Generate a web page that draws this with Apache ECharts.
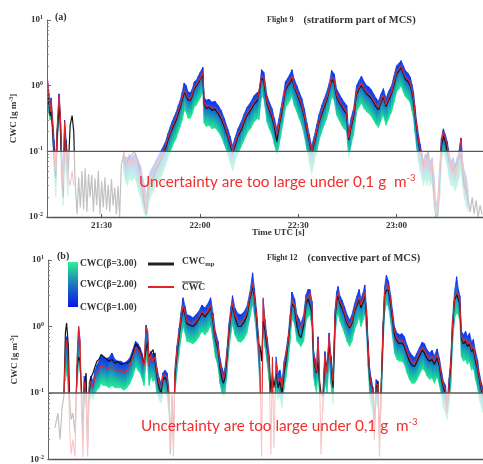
<!DOCTYPE html>
<html>
<head>
<meta charset="utf-8">
<script src="https://cdn.jsdelivr.net/npm/echarts@6/dist/echarts.min.js"></script>
<style>
html, body { margin: 0; padding: 0; background: #fff; }
#main { width: 483px; height: 464px; }
</style>
</head>
<body>
<div id="main"></div>
<script>
// ---- Flight 9 (panel a), time in minutes after 21:00 UTC ----
var tA = [13.5,13.8,14.3,14.6,15.0,15.5,16.0,16.4,17.0,17.4,17.8,18.3,18.7,19.2,19.8,20.4,21.0,21.5,21.8,
  22.0,22.5,23.0,23.5,24.0,24.5,25.0,25.5,26.0,26.5,27.0,27.5,28.0,28.5,29.0,29.5,30.0,30.5,31.0,31.5,32.0,32.5,33.0,33.5,34.0,34.5,35.0,35.5,36.0,
  36.7,37.3,37.9,38.5,39.1,40.0,40.6,41.2,41.9,42.5,43.1,43.7,44.3,44.9,45.8,46.7,47.6,48.5,
  49.5,50.3,51.0,51.6,52.2,52.8,53.4,54.0,54.6,55.2,55.8,56.4,57.1,57.7,58.3,58.9,59.5,60.1,60.9,61.3,61.9,62.8,63.7,64.6,65.6,66.5,67.4,68.5,69.2,70.0,
  70.7,71.6,72.6,73.5,74.4,75.6,76.5,77.6,78.0,78.8,79.5,80.5,81.2,82.0,82.7,83.5,84.1,84.7,85.5,86.1,86.8,87.5,88.1,88.8,89.6,90.3,91.1,91.9,92.6,93.4,94.1,
  94.9,95.7,96.4,97.2,97.9,98.7,99.5,100.2,101.0,101.7,102.5,103.3,104.0,104.8,105.4,106.2,106.9,107.8,108.6,109.3,110.1,110.9,111.5,112.2,113.0,113.7,114.5,
  115.3,116.0,116.8,117.6,118.5,119.2,120.0,120.8,121.4,122.1,122.7,123.5,124.2,124.7,125.2,125.6,126.1,126.7,127.2,
  127.8,128.2,128.8,129.3,129.7,130.3,130.9,131.5,132.0,132.6,133.2,133.7,134.3,134.9,135.5,136.1,136.7,137.3,137.9,138.5,139.1,139.7,140.2,140.7,141.3,141.9,
  142.5,143.1,143.7,144.3,144.9,145.5,146.1];
var redA = [1.2,0.8,0.4,0.6,0.3,0.1,0.05,0.2,0.72,0.35,0.08,0.03,0.28,0.1,0.04,0.03,0.05,0.03,null,
  null,null,null,null,null,null,null,null,null,null,null,null,null,null,null,null,null,null,null,null,null,null,null,null,null,null,null,null,null,
  0.1,0.07,0.06,0.075,0.06,0.08,0.07,0.05,0.045,0.03,0.02,0.012,0.025,0.035,0.045,0.06,0.07,0.09,
  0.12,0.16,0.2,0.24,0.28,0.33,0.42,0.5,0.65,0.85,0.8,0.65,0.63,0.75,0.95,1.0,1.15,1.3,1.6,0.55,0.48,0.5,0.45,0.47,0.4,0.34,0.26,0.18,0.14,0.1,
  0.13,0.18,0.23,0.3,0.38,0.46,0.56,0.64,0.6,1.4,1.3,0.56,0.45,0.36,0.26,0.18,0.25,0.36,0.6,0.92,1.05,1.2,1.4,1.0,0.8,0.65,0.51,0.35,0.23,0.15,0.1,
  0.14,0.21,0.3,0.4,0.5,0.64,0.9,1.35,1.2,0.72,0.6,0.51,0.45,0.4,0.16,0.26,0.36,0.8,0.95,1.1,0.9,0.8,0.77,0.7,0.6,0.52,0.46,
  0.6,0.72,0.51,0.65,0.8,1.1,1.6,1.8,2.05,1.6,1.35,1.25,1.1,0.85,0.64,0.4,0.25,0.15,0.11,
  0.07,0.05,0.08,0.06,0.08,0.05,0.07,0.03,0.011,0.012,0.05,0.14,0.2,0.16,0.12,0.08,0.05,0.07,0.04,0.06,0.1,0.16,0.06,0.04,0.03,0.02,
  null,null,null,null,null,null,null];
var blackA = [0.9,0.6,0.35,0.4,0.25,0.08,0.04,0.15,0.5,0.3,0.06,0.02,0.2,0.12,0.05,0.25,0.35,0.2,0.05,
  0.03,0.011,0.04,0.014,0.05,0.013,0.055,0.012,0.045,0.02,0.044,0.012,0.039,0.015,0.05,0.011,0.035,0.014,0.04,0.013,0.031,0.012,0.038,0.015,0.028,0.011,0.03,0.01,0.06,
  0.09,0.06,0.07,0.08,0.085,0.1,0.105,0.07,0.04,0.025,0.015,0.011,0.03,0.03,0.04,0.055,0.065,0.085,
  0.11,0.15,0.19,0.22,0.26,0.3,0.38,0.46,0.6,0.8,0.75,0.6,0.6,0.7,0.9,0.95,1.1,1.25,1.5,0.52,0.45,0.47,0.42,0.44,0.37,0.31,0.24,0.17,0.13,0.095,
  0.12,0.17,0.21,0.28,0.35,0.43,0.52,0.6,0.56,1.3,1.2,0.52,0.42,0.33,0.24,0.14,0.23,0.33,0.55,0.85,1.0,1.1,1.3,0.95,0.75,0.6,0.48,0.33,0.21,0.14,0.095,
  0.13,0.2,0.28,0.37,0.46,0.6,0.85,1.25,1.1,0.68,0.56,0.48,0.42,0.37,0.15,0.24,0.33,0.75,0.9,1.0,0.85,0.75,0.72,0.65,0.56,0.48,0.43,
  0.56,0.68,0.48,0.6,0.75,1.0,1.5,1.7,1.9,1.5,1.25,1.15,1.0,0.8,0.6,0.38,0.24,0.14,0.1,
  0.09,0.06,0.07,0.09,0.1,0.05,0.06,0.02,0.01,0.011,0.04,0.12,0.17,0.14,0.1,0.07,0.06,0.05,0.05,0.07,0.08,0.09,0.05,0.03,0.025,0.018,
  0.012,0.02,0.011,0.018,0.01,0.015,0.011];
var hiA = [1.2,0.9,0.55,0.65,0.35,0.15,0.07,0.22,0.75,0.4,0.1,0.04,0.3,0.15,0.06,null,null,null,null,
  null,null,null,null,null,null,null,null,null,null,null,null,null,null,null,null,null,null,null,null,null,null,null,null,null,null,null,null,null,
  0.1,0.08,0.08,0.09,0.08,0.09,0.08,0.07,0.06,0.04,0.03,0.02,0.04,0.05,0.06,0.075,0.09,0.11,
  0.14,0.19,0.24,0.29,0.34,0.4,0.5,0.6,0.8,1.1,1.0,0.8,0.78,0.9,1.15,1.2,1.4,1.6,1.9,0.66,0.6,0.62,0.56,0.58,0.5,0.42,0.32,0.22,0.17,0.12,
  0.16,0.22,0.28,0.37,0.47,0.57,0.7,0.8,0.75,1.75,1.6,0.7,0.56,0.45,0.32,0.22,0.31,0.45,0.75,1.15,1.3,1.5,1.75,1.25,1.0,0.8,0.64,0.44,0.28,0.18,0.12,
  0.17,0.26,0.37,0.5,0.62,0.8,1.1,1.7,1.5,0.9,0.75,0.64,0.56,0.5,0.2,0.33,0.45,1.0,1.2,1.4,1.15,1.0,0.96,0.88,0.75,0.65,0.58,
  0.75,0.9,0.64,0.82,1.0,1.4,2.0,2.2,2.4,2.0,1.7,1.55,1.35,1.05,0.8,0.5,0.3,0.18,0.13,
  0.09,0.07,0.09,0.08,0.09,0.07,0.08,0.04,0.015,0.02,0.06,0.16,0.22,0.18,0.14,0.09,0.07,0.08,0.06,0.08,0.1,0.16,0.07,0.05,0.04,0.025,
  null,null,null,null,null,null,null];
var loA = [0.5,0.4,0.3,0.35,0.18,0.06,0.02,0.1,0.4,0.2,0.03,0.015,0.12,0.05,0.02,null,null,null,null,
  null,null,null,null,null,null,null,null,null,null,null,null,null,null,null,null,null,null,null,null,null,null,null,null,null,null,null,null,null,
  0.05,0.035,0.03,0.04,0.035,0.04,0.035,0.025,0.02,0.015,0.011,0.01,0.015,0.02,0.025,0.03,0.035,0.045,
  0.06,0.08,0.1,0.12,0.14,0.16,0.2,0.24,0.3,0.42,0.4,0.32,0.32,0.38,0.48,0.5,0.58,0.65,0.8,0.27,0.24,0.25,0.22,0.23,0.2,0.17,0.13,0.09,0.07,0.05,
  0.07,0.09,0.12,0.15,0.19,0.23,0.28,0.32,0.3,0.7,0.65,0.28,0.22,0.18,0.13,0.09,0.12,0.18,0.3,0.46,0.52,0.6,0.7,0.5,0.4,0.32,0.25,0.17,0.11,0.07,0.045,
  0.07,0.1,0.15,0.2,0.25,0.32,0.45,0.68,0.6,0.36,0.3,0.25,0.22,0.2,0.08,0.13,0.18,0.4,0.48,0.55,0.45,0.4,0.38,0.35,0.3,0.26,0.23,
  0.3,0.36,0.25,0.32,0.4,0.55,0.8,0.9,1.0,0.8,0.68,0.62,0.55,0.42,0.32,0.2,0.12,0.07,0.05,
  0.04,0.03,0.04,0.03,0.04,0.03,0.035,0.015,0.01,0.01,0.02,0.07,0.1,0.08,0.06,0.04,0.03,0.03,0.025,0.03,0.04,0.05,0.03,0.02,0.015,0.012,
  null,null,null,null,null,null,null];

// ---- Flight 12 (panel b), minutes from the start of the segment ----
var tB = [2.3,3.3,4.0,4.7,5.3,5.8,6.2,6.5,6.8,7.2,7.7,8.3,9.0,9.7,10.2,10.7,11.2,11.7,12.0,12.7,13.2,13.7,14.3,15.0,15.7,16.3,17.0,17.7,18.3,19.3,20.3,
  21.3,22.3,23.3,24.3,25.3,26.3,27.3,28.3,29.2,30.0,30.7,31.3,32.0,32.7,33.2,33.7,34.3,35.0,35.7,36.3,37.0,37.7,38.3,39.0,39.7,40.3,40.8,41.3,41.8,
  42.3,43.0,43.7,44.3,45.0,45.7,46.3,47.3,48.3,49.3,50.3,51.3,52.3,53.3,54.2,55.0,55.8,56.7,57.3,58.0,58.5,59.0,59.7,60.3,61.0,61.5,62.3,63.3,64.3,65.3,
  66.3,67.3,68.2,68.8,69.5,70.2,70.7,71.2,71.7,72.3,73.0,73.7,74.3,74.8,75.3,76.0,76.7,77.3,78.0,78.7,79.3,80.0,80.7,81.3,82.2,83.0,83.7,84.3,85.2,86.0,
  86.7,87.3,88.0,88.5,89.0,89.5,90.0,90.5,91.0,91.7,92.3,93.0,93.7,94.3,95.0,95.7,96.2,96.7,97.3,98.0,98.8,99.7,100.5,101.3,102.2,103.0,103.7,104.3,105.0,
  105.6,106.2,106.7,107.2,107.7,108.3,108.8,109.3,110.0,110.5,111.0,111.7,112.2,112.8,113.5,114.2,114.8,115.5,116.3,117.2,118.0,118.8,119.7,120.5,121.3,
  122.2,123.0,123.8,124.7,125.5,126.3,127.2,128.0,128.8,129.7,130.5,131.2,131.8,132.5,133.0,133.7,134.3,134.8,135.5,136.2,136.8,137.3,137.8,138.5,139.2,
  139.8,140.5,141.2,141.8,142.5,143.2,143.8,144.5,145.0];
var redB = [null,null,null,null,0.1,0.4,0.62,0.5,0.2,0.03,0.012,0.02,0.011,0.3,1.0,0.6,0.05,0.011,0.15,0.1,0.011,0.12,0.15,0.12,0.18,0.2,0.22,0.26,0.25,0.24,0.23,
  0.25,0.22,0.21,0.22,0.2,0.22,0.26,0.35,0.48,0.45,0.4,0.33,0.25,1.0,0.8,0.25,0.38,0.3,0.35,0.2,0.14,0.12,0.18,0.19,0.17,0.1,0.015,0.1,0.011,
  0.2,0.45,0.8,1.3,2.1,1.6,1.2,1.15,1.1,1.2,1.4,1.7,1.5,1.7,2.1,1.3,0.7,0.5,0.28,0.2,0.17,0.2,0.4,0.9,1.6,2.3,1.5,1.2,1.15,1.3,
  1.6,2.8,4.5,3.0,1.5,0.6,0.2,0.011,2.5,1.1,0.6,0.3,0.012,0.35,0.015,0.3,0.15,0.17,0.12,0.25,0.36,0.6,1.2,2.5,2.1,1.2,1.1,0.95,1.2,2.5,
  2.8,3.2,2.0,0.38,0.28,0.21,0.66,0.2,0.012,0.1,0.38,0.2,0.73,0.3,0.15,1.5,2.7,3.2,2.4,2.1,1.6,1.2,1.0,1.2,1.8,2.3,2.8,2.1,2.5,
  3.3,1.5,0.5,0.2,0.14,0.1,0.02,0.14,0.13,0.011,0.1,1.0,3.3,4.5,4.0,2.5,1.5,0.85,0.65,0.6,0.62,0.55,0.42,0.34,0.3,
  0.28,0.33,0.4,0.48,0.45,0.37,0.33,0.36,0.3,0.38,0.28,0.18,0.13,0.11,0.05,0.14,0.3,1.0,2.7,3.3,3.0,2.4,0.7,0.6,0.65,
  0.55,0.6,0.45,0.5,0.33,0.25,0.17,0.12,0.1];
var blackB = [0.03,0.05,0.02,0.06,0.09,0.8,1.13,1.1,0.5,0.08,0.04,0.05,0.025,0.25,0.35,0.3,0.1,0.02,0.12,0.2,0.015,0.1,0.17,0.2,0.25,0.3,0.32,0.38,0.36,0.33,0.3,
  0.32,0.28,0.3,0.27,0.28,0.28,0.3,0.4,0.55,0.5,0.42,0.35,0.28,0.45,0.6,0.35,0.4,0.45,0.3,0.18,0.12,0.1,0.16,0.17,0.15,0.09,0.012,0.09,0.02,
  0.18,0.4,0.7,1.2,1.9,1.5,1.1,1.05,1.0,1.1,1.3,1.6,1.4,1.6,2.0,1.2,0.65,0.45,0.25,0.16,0.14,0.17,0.35,0.8,1.5,2.1,1.4,1.0,1.0,1.15,
  1.45,2.6,4.0,2.8,1.4,0.55,0.5,0.3,1.2,0.9,0.5,0.35,0.1,0.2,0.12,0.2,0.12,0.15,0.1,0.2,0.3,0.55,1.1,2.2,1.9,1.0,0.75,0.68,1.0,2.2,
  2.6,2.6,1.6,0.35,0.25,0.2,0.3,0.15,0.1,0.09,0.3,0.25,0.5,0.35,0.12,1.3,2.4,2.9,2.2,1.9,1.5,1.1,0.95,1.1,1.7,2.1,2.6,1.9,2.3,
  3.0,1.4,0.45,0.18,0.13,0.12,0.03,0.12,0.15,0.02,0.1,0.8,3.0,3.5,3.5,2.2,1.35,0.75,0.6,0.55,0.57,0.5,0.38,0.3,0.26,
  0.25,0.3,0.36,0.44,0.4,0.33,0.3,0.32,0.27,0.34,0.25,0.16,0.12,0.1,0.06,0.12,0.27,0.9,2.5,3.0,2.8,2.2,0.65,0.55,0.6,
  0.5,0.55,0.42,0.46,0.3,0.23,0.16,0.11,0.09];
var hiB = [null,null,null,null,null,0.5,0.7,0.6,0.25,null,null,null,null,0.35,1.0,0.6,null,null,0.18,0.12,null,0.14,0.18,0.15,0.22,0.26,0.3,0.36,0.35,0.33,0.34,
  0.4,0.32,0.3,0.3,0.28,0.3,0.34,0.45,0.6,0.55,0.48,0.4,0.3,1.05,0.85,0.3,0.42,0.38,0.4,0.24,0.17,0.14,0.2,0.22,0.2,0.12,null,0.12,null,
  0.24,0.52,0.95,1.6,2.7,2.0,1.5,1.45,1.35,1.5,1.7,2.1,1.9,2.2,2.7,1.6,0.85,0.6,0.34,0.24,0.2,0.24,0.48,1.1,2.0,2.9,1.9,1.55,1.5,1.65,
  2.0,3.3,6.4,3.8,1.8,0.7,0.25,null,2.7,1.3,0.7,0.4,null,0.4,null,0.35,0.2,0.22,0.15,0.3,0.42,0.7,1.5,3.3,2.6,1.5,1.3,1.1,1.5,3.0,
  3.6,3.6,2.4,0.45,0.33,0.25,0.7,0.24,null,0.12,0.42,0.24,0.8,0.36,0.18,1.8,3.3,4.0,2.9,2.5,2.0,1.5,1.25,1.5,2.2,2.9,3.6,2.6,3.2,
  4.2,1.8,0.6,0.24,0.17,0.12,null,0.16,0.15,null,0.12,1.2,4.0,5.9,4.8,3.0,1.8,1.0,0.8,0.75,0.78,0.7,0.52,0.42,0.37,
  0.34,0.4,0.48,0.58,0.55,0.45,0.4,0.44,0.36,0.46,0.33,0.21,0.15,0.13,0.07,0.17,0.35,1.2,3.3,5.6,3.6,2.9,0.85,0.75,0.85,
  0.7,0.8,0.58,0.64,0.42,0.31,0.2,0.14,0.12];
var loB = [null,null,null,null,null,0.15,0.2,0.18,0.1,null,null,null,null,0.12,0.3,0.2,null,null,0.08,0.06,null,0.07,0.09,0.08,0.1,0.11,0.12,0.14,0.13,0.13,0.12,
  0.13,0.12,0.12,0.12,0.11,0.12,0.14,0.18,0.25,0.22,0.2,0.17,0.13,0.3,0.3,0.13,0.18,0.15,0.16,0.1,0.08,0.07,0.1,0.1,0.09,0.05,null,0.05,null,
  0.1,0.22,0.4,0.65,1.0,0.8,0.6,0.58,0.55,0.6,0.7,0.85,0.75,0.85,1.05,0.65,0.35,0.25,0.14,0.1,0.09,0.1,0.2,0.45,0.8,1.1,0.75,0.6,0.58,0.65,
  0.8,1.4,2.2,1.5,0.75,0.3,0.1,null,0.8,0.5,0.3,0.15,null,0.12,null,0.12,0.08,0.09,0.06,0.12,0.17,0.3,0.6,1.3,1.1,0.6,0.55,0.5,0.6,1.2,
  1.4,1.5,1.0,0.18,0.13,0.1,0.2,0.09,null,0.05,0.15,0.1,0.3,0.14,0.07,0.7,1.3,1.6,1.2,1.0,0.8,0.6,0.5,0.6,0.9,1.1,1.4,1.0,1.25,
  1.6,0.75,0.25,0.1,0.07,0.05,null,0.07,0.06,null,0.05,0.5,1.6,2.2,2.0,1.2,0.75,0.4,0.32,0.3,0.3,0.27,0.2,0.16,0.14,
  0.14,0.16,0.19,0.23,0.22,0.18,0.16,0.17,0.14,0.18,0.13,0.09,0.06,0.05,0.04,0.07,0.14,0.5,1.3,1.6,1.5,1.2,0.35,0.3,0.32,
  0.27,0.3,0.22,0.24,0.16,0.12,0.08,0.06,0.05];

var tickTimes = [30, 60, 90, 120];
var threshold = 0.1;

var SERIF = '"Liberation Serif", "DejaVu Serif", serif';
var chart = echarts.init(document.getElementById('main'));

function bandGrad() {
  return new echarts.graphic.LinearGradient(0, 0, 0, 1, [
    { offset: 0, color: '#1228f4' },
    { offset: 0.35, color: '#1466d2' },
    { offset: 0.7, color: '#18b9a8' },
    { offset: 1, color: '#24f08e' }
  ]);
}

function band(t, lo, hi, idx) {
  return {
    type: 'custom', xAxisIndex: idx, yAxisIndex: idx, z: 1, silent: true,
    data: t.map(function (v, i) { return [v, lo[i] == null ? '-' : lo[i], hi[i] == null ? '-' : hi[i]]; }),
    encode: { x: 0, y: [1, 2] },
    renderItem: function (params, api) {
      var i = params.dataIndex;
      if (i >= t.length - 1 || hi[i] == null || hi[i + 1] == null) return;
      var p1 = api.coord([t[i], hi[i]]), p2 = api.coord([t[i + 1], hi[i + 1]]);
      var p3 = api.coord([t[i + 1], lo[i + 1]]), p4 = api.coord([t[i], lo[i]]);
      var g = bandGrad();
      return { type: 'polygon', shape: { points: [p1, p2, p3, p4] }, style: { fill: g, stroke: g, lineWidth: 0.8 } };
    }
  };
}

function line(t, vals, idx, color, w, z) {
  return {
    type: 'line', xAxisIndex: idx, yAxisIndex: idx, z: z, silent: true,
    showSymbol: false, connectNulls: false,
    data: t.map(function (v, i) { return [v, vals[i] == null ? '-' : vals[i]]; }),
    lineStyle: { color: color, width: w }
  };
}

// faded zone below 0.1 plus the threshold line
function fade(idx, t0) {
  return {
    type: 'custom', xAxisIndex: idx, yAxisIndex: idx, z: 10, silent: true,
    data: [[t0, threshold]],
    renderItem: function (params, api) {
      var cs = params.coordSys;
      var y = api.coord([api.value(0), api.value(1)])[1];
      return { type: 'group', children: [
        { type: 'rect', shape: { x: cs.x, y: y, width: cs.width, height: cs.y + cs.height - y },
          style: { fill: 'rgba(255,255,255,0.74)' } },
        { type: 'line', shape: { x1: cs.x, y1: y, x2: cs.x + cs.width, y2: y },
          style: { stroke: '#5a5a5a', lineWidth: 1.4 } }
      ] };
    }
  };
}

function yAxis(idx) {
  return {
    type: 'log', logBase: 10, min: 0.01, max: 10, gridIndex: idx, z: 20,
    axisLine: { show: true, lineStyle: { color: '#666', width: 1 } },
    axisTick: { show: true, inside: true, length: 4, lineStyle: { color: '#666' } },
    minorTick: { show: true, splitNumber: 9, length: 2, lineStyle: { color: '#888' } },
    splitLine: { show: false },
    axisLabel: {
      margin: 4,
      formatter: function (v) { return '{b|10}{s|' + Math.round(Math.log10(v)) + '}'; },
      rich: {
        b: { fontFamily: SERIF, fontSize: 9, fontWeight: 'bold', color: '#333' },
        s: { fontFamily: SERIF, fontSize: 6, fontWeight: 'bold', color: '#333', verticalAlign: 'top', padding: [0, 0, 5, 0] }
      }
    },
    name: '{n|CWC [g m}{s|-3}{n|]}', nameLocation: 'middle', nameGap: 21, nameRotate: 90,
    nameTextStyle: {
      rich: {
        n: { fontFamily: SERIF, fontSize: 9, fontWeight: 'bold', color: '#333' },
        s: { fontFamily: SERIF, fontSize: 6, fontWeight: 'bold', color: '#333', verticalAlign: 'top', padding: [0, 0, 5, 0] }
      }
    }
  };
}

function hhmm(v) {
  var m = Math.round(v);
  var h = 21 + Math.floor(m / 60), mm = m % 60;
  return h + ':' + (mm < 10 ? '0' + mm : mm);
}

var warnRich = {
  w: { fontFamily: 'Lato, "Open Sans", sans-serif', fontSize: 15.3, fill: '#f0302c' },
  s: { fontFamily: 'Lato, "Open Sans", sans-serif', fontSize: 9.5, fill: '#f0302c', verticalAlign: 'top', padding: [0, 0, 9, 0] }
};
var legTxt = { fontFamily: SERIF, fontSize: 9.5, fontWeight: 'bold', fill: '#333' };

chart.setOption({
  animation: false,
  backgroundColor: '#fff',
  title: [
    { text: '(a)', left: 50, top: 7, textStyle: { fontFamily: SERIF, fontSize: 10, fontWeight: 'bold', color: '#333' } },
    { text: '{f|Flight 9}  {m|(stratiform part of MCS)}', left: 262, top: 6,
      textStyle: { rich: { f: { fontFamily: SERIF, fontSize: 8, fontWeight: 'bold', color: '#333' },
                           m: { fontFamily: SERIF, fontSize: 10.5, fontWeight: 'bold', color: '#333' } } } },
    { text: '(b)', left: 52, top: 246, textStyle: { fontFamily: SERIF, fontSize: 10, fontWeight: 'bold', color: '#333' } },
    { text: '{f|Flight 12}  {m|(convective part of MCS)}', left: 262, top: 244,
      textStyle: { rich: { f: { fontFamily: SERIF, fontSize: 8, fontWeight: 'bold', color: '#333' },
                           m: { fontFamily: SERIF, fontSize: 10.5, fontWeight: 'bold', color: '#333' } } } }
  ],
  grid: [
    { left: 45, top: 20, width: 438, height: 197 },
    { left: 48, top: 260, width: 435, height: 201 }
  ],
  xAxis: [
    { type: 'value', gridIndex: 0, min: 13.3, max: 146.4, z: 20,
      axisLine: { lineStyle: { color: '#555', width: 1.4 } },
      axisTick: { show: true, inside: true, length: 3, customValues: tickTimes, lineStyle: { color: '#555' } },
      axisLabel: { customValues: tickTimes, formatter: hhmm, margin: 4,
        fontFamily: SERIF, fontSize: 9, fontWeight: 'bold', color: '#333' },
      splitLine: { show: false } },
    { type: 'value', gridIndex: 1, min: 0, max: 145, z: 20,
      axisLine: { lineStyle: { color: '#555', width: 1.4 } },
      axisTick: { show: false }, axisLabel: { show: false }, splitLine: { show: false } }
  ],
  yAxis: [yAxis(0), yAxis(1)],
  series: [
    band(tA, loA, hiA, 0),
    line(tA, blackA, 0, '#151515', 1.2, 2),
    line(tA, redA, 0, '#e3232a', 1.1, 3),
    fade(0, 13.3),
    band(tB, loB, hiB, 1),
    line(tB, blackB, 1, '#151515', 1.2, 2),
    line(tB, redB, 1, '#e3232a', 1.1, 3),
    fade(1, 0)
  ],
  graphic: [
    { type: 'text', left: 252, top: 228, z: 50,
      style: { text: 'Time UTC [s]', fontFamily: SERIF, fontSize: 9, fontWeight: 'bold', fill: '#333' } },
    { type: 'text', left: 139, top: 173, z: 50,
      style: { text: '{w|Uncertainty are too large under 0,1 g  m}{s|-3}', rich: warnRich } },
    { type: 'text', left: 141, top: 417, z: 50,
      style: { text: '{w|Uncertainty are too large under 0,1 g  m}{s|-3}', rich: warnRich } },
    // legend of panel b
    { type: 'rect', z: 50, shape: { x: 68, y: 262, width: 10, height: 45 },
      style: { fill: new echarts.graphic.LinearGradient(0, 0, 0, 1, [
        { offset: 0, color: '#2ef092' }, { offset: 0.5, color: '#1a78bc' }, { offset: 1, color: '#0a14f0' }]) } },
    { type: 'text', left: 80, top: 259, z: 50, style: Object.assign({ text: 'CWC(\u03b2=3.00)' }, legTxt) },
    { type: 'text', left: 80, top: 280, z: 50, style: Object.assign({ text: 'CWC(\u03b2=2.00)' }, legTxt) },
    { type: 'text', left: 80, top: 303, z: 50, style: Object.assign({ text: 'CWC(\u03b2=1.00)' }, legTxt) },
    { type: 'line', z: 50, shape: { x1: 148, y1: 264, x2: 174, y2: 264 }, style: { stroke: '#222', lineWidth: 3 } },
    { type: 'line', z: 50, shape: { x1: 148, y1: 287, x2: 174, y2: 287 }, style: { stroke: '#e3232a', lineWidth: 2 } },
    { type: 'text', left: 182, top: 257, z: 50,
      style: { text: '{c|CWC}{m|mp}', rich: {
        c: { fontFamily: SERIF, fontSize: 9.5, fontWeight: 'bold', fill: '#333' },
        m: { fontFamily: SERIF, fontSize: 6.5, fontWeight: 'bold', fill: '#333', verticalAlign: 'bottom', padding: [5, 0, 0, 0] } } } },
    { type: 'text', left: 182, top: 283, z: 50, style: Object.assign({ text: 'CWC' }, legTxt) },
    { type: 'line', z: 50, shape: { x1: 182, y1: 282, x2: 202, y2: 282 }, style: { stroke: '#333', lineWidth: 1 } }
  ]
});
</script>
</body>
</html>
